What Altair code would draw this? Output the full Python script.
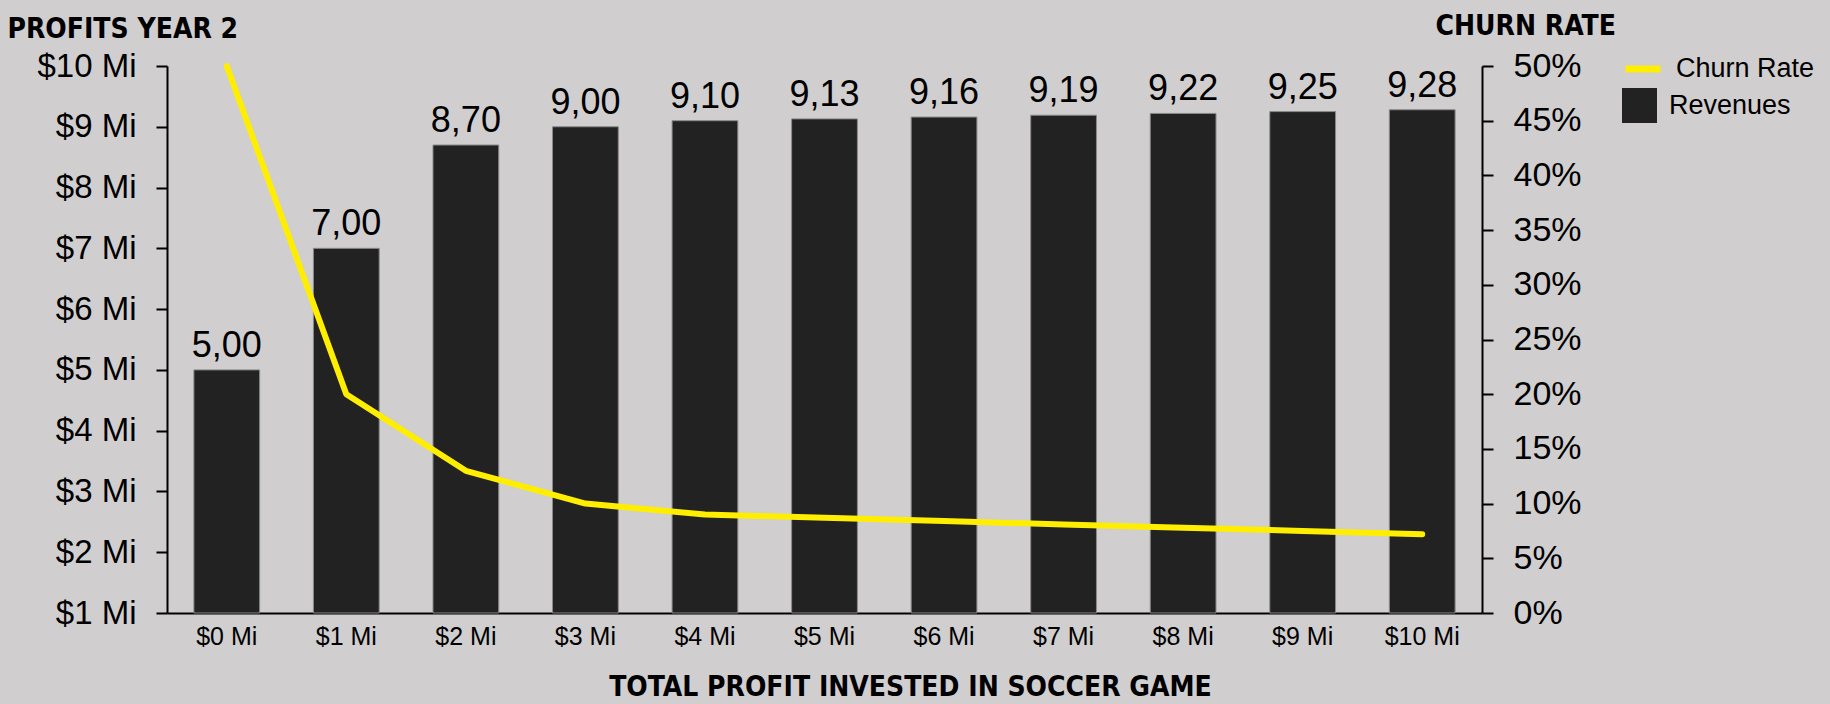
import altair as alt
import pandas as pd

invest = ["$0 Mi", "$1 Mi", "$2 Mi", "$3 Mi", "$4 Mi", "$5 Mi",
          "$6 Mi", "$7 Mi", "$8 Mi", "$9 Mi", "$10 Mi"]
revenues = [5.00, 7.00, 8.70, 9.00, 9.10, 9.13, 9.16, 9.19, 9.22, 9.25, 9.28]
churn = [0.50, 0.20, 0.13, 0.10, 0.090, 0.087, 0.084, 0.081, 0.078, 0.075, 0.072]
left_ticks = [1, 2, 3, 4, 5, 6, 7, 8, 9, 10]
right_ticks = [0, 0.05, 0.10, 0.15, 0.20, 0.25, 0.30, 0.35, 0.40, 0.45, 0.50]

df = pd.DataFrame({
    "invest": invest,
    "revenues": revenues,
    "churn": churn,
    "rev_series": ["Revenues"] * len(invest),
    "churn_series": ["Churn Rate"] * len(invest),
})

BG = "#d0cecf"
BAR = "#222222"
YEL = "#FFEE00"
LABEL_FONT = "Liberation Sans"
TITLE_FONT = "DejaVu Sans Condensed, sans-serif"
TITLE_SIZE = 28

W, H = 1315, 547

x_enc = alt.X(
    "invest:N",
    sort=invest,
    scale=alt.Scale(paddingInner=0.45, paddingOuter=0.225),
    axis=alt.Axis(
        labelAngle=0, labelFontSize=25, labelFont=LABEL_FONT, labelColor="black",
        labelPadding=11, ticks=False, domainColor="black", domainWidth=2,
        title="TOTAL PROFIT INVESTED IN SOCCER GAME",
        titleFont=TITLE_FONT, titleFontSize=TITLE_SIZE, titleFontWeight="bold",
        titleColor="black", titleX=743, titleY=82, titleAlign="center",
        titleBaseline="alphabetic",
    ),
)

common_legend = dict(
    title=None, orient="none", labelFont=LABEL_FONT, labelFontSize=27,
    labelColor="black", symbolSize=1225, labelOffset=12, padding=0,
)

churn_legend = alt.Legend(
    legendX=1455, legendY=-18, symbolType="stroke", symbolStrokeWidth=7,
    symbolStrokeColor=YEL, **common_legend,
)
rev_legend = alt.Legend(
    legendX=1455, legendY=22, symbolType="square", symbolStrokeWidth=0,
    symbolFillColor=BAR, **common_legend,
)

left_axis = alt.Axis(
    values=left_ticks, labelExpr="'$' + datum.value + ' Mi'",
    labelFontSize=33, labelFont=LABEL_FONT, labelColor="black", labelPadding=20,
    domainColor="black", domainWidth=2, tickColor="black", tickWidth=2, tickSize=11,
    grid=False,
    title="PROFITS YEAR 2", titleAngle=0, titleX=-160, titleY=-29,
    titleAlign="left", titleBaseline="alphabetic", titleFont=TITLE_FONT,
    titleFontSize=TITLE_SIZE, titleFontWeight="bold", titleColor="black",
)

right_axis = alt.Axis(
    orient="right", values=right_ticks, format=".0%",
    labelFontSize=34, labelFont=LABEL_FONT, labelColor="black", labelPadding=20,
    domainColor="black", domainWidth=2, tickColor="black", tickWidth=2, tickSize=11,
    grid=False,
    title="CHURN RATE", titleAngle=0, titleX=-47, titleY=-32,
    titleAlign="left", titleBaseline="alphabetic", titleFont=TITLE_FONT,
    titleFontSize=TITLE_SIZE, titleFontWeight="bold", titleColor="black",
)

base = alt.Chart(df)

bars = base.mark_bar(stroke="#8a8a8a", strokeWidth=1).encode(
    x=x_enc,
    y=alt.Y("revenues:Q", scale=alt.Scale(domain=[1, 10], clamp=True, nice=False, zero=False),
            axis=left_axis),
    fill=alt.Fill("rev_series:N", scale=alt.Scale(domain=["Revenues"], range=[BAR]),
                  legend=rev_legend),
)

texts = base.mark_text(
    baseline="alphabetic", dy=-13, fontSize=36, font=LABEL_FONT, color="black"
).transform_calculate(
    lab="replace(format(datum.revenues, '.2f'), '.', ',')"
).encode(
    x=alt.X("invest:N", sort=invest),
    y=alt.Y("revenues:Q"),
    text="lab:N",
)

line = base.mark_line(strokeWidth=6, strokeCap="round", strokeJoin="round").encode(
    x=alt.X("invest:N", sort=invest),
    y=alt.Y("churn:Q", scale=alt.Scale(domain=[0, 0.5], nice=False), axis=right_axis),
    stroke=alt.Stroke("churn_series:N", scale=alt.Scale(domain=["Churn Rate"], range=[YEL]),
                      legend=churn_legend),
)

chart = alt.layer(alt.layer(bars, texts), line).resolve_scale(y="independent").properties(
    width=W, height=H,
    autosize=alt.AutoSizeParams(type="none"),
    padding={"left": 167, "top": 66, "right": 348, "bottom": 91},
    background=BG,
).configure_view(stroke=None)

chart.save("out.html", embed_options={"renderer": "svg", "actions": False})
